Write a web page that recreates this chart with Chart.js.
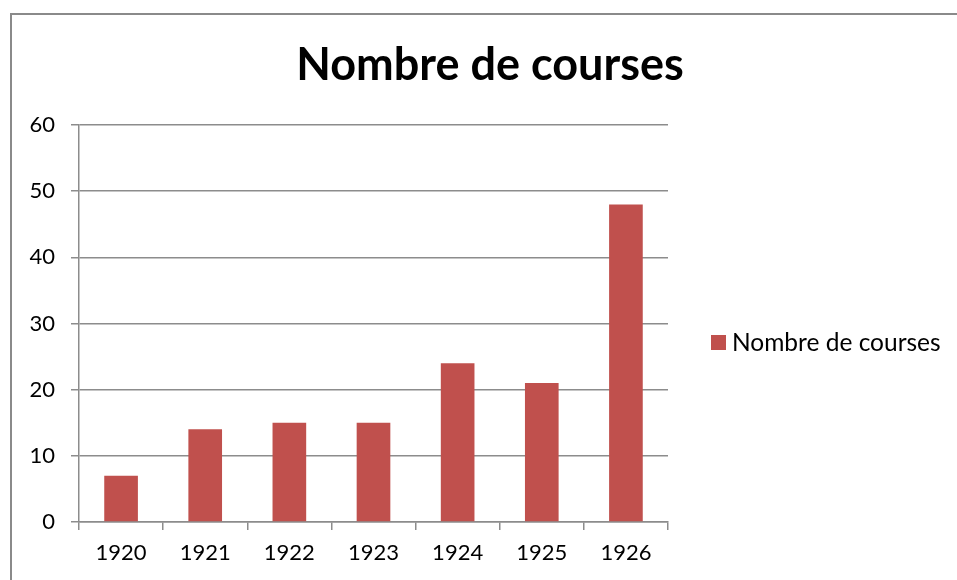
<!DOCTYPE html>
<html>
<head>
<meta charset="utf-8">
<script src="https://cdn.jsdelivr.net/npm/chart.js@4"></script>
<style>
  html, body { margin: 0; padding: 0; background: #fff; overflow: hidden; }
  #wrap { position: relative; width: 957px; height: 580px; }
  #cadre { position: absolute; left: 10px; top: 13px; width: 960px; height: 580px;
           border-left: 2px solid #8a8a8a; border-top: 2px solid #8a8a8a; }
  canvas { position: absolute; left: 0; top: 0; }
</style>
</head>
<body>
<div id="wrap">
  <div id="cadre"></div>
  <canvas id="graphique" width="957" height="580"></canvas>
</div>
<script>
// Données du graphique
const annees = ['1920', '1921', '1922', '1923', '1924', '1925', '1926'];
const nombreCourses = [7, 14, 15, 15, 24, 21, 48];
const nomSerie = 'Nombre de courses';
const titre = 'Nombre de courses';

const police = 'Lato, "Open Sans", sans-serif';
const rouge = '#C0504D';
const gris = '#8c8c8c';

// Titre et légende dessinés à la main, placés comme dans Excel
const titreEtLegende = {
  id: 'titreEtLegende',
  afterDraw(chart) {
    const ctx = chart.ctx;
    const ds = chart.data.datasets[0];
    ctx.save();
    ctx.fillStyle = '#000';
    ctx.textBaseline = 'middle';
    ctx.textAlign = 'center';
    ctx.font = 'bold 45px ' + police;
    ctx.fillText(titre, 490, 65);

    ctx.fillStyle = ds.backgroundColor;
    ctx.fillRect(711, 335, 15, 15);
    ctx.fillStyle = '#000';
    ctx.font = '24.5px ' + police;
    ctx.textAlign = 'left';
    ctx.fillText(ds.label, 732, 343);
    ctx.restore();
  }
};

const ctx = document.getElementById('graphique').getContext('2d');
new Chart(ctx, {
  type: 'bar',
  data: {
    labels: annees,
    datasets: [{
      label: nomSerie,
      data: nombreCourses,
      backgroundColor: rouge,
      categoryPercentage: 1,
      barPercentage: 0.4,
    }],
  },
  options: {
    responsive: false,
    animation: false,
    layout: { padding: { left: 26, right: 289, top: 125, bottom: 0 } },
    plugins: {
      legend: { display: false },
      tooltip: { enabled: false },
      title: { display: false },
    },
    scales: {
      x: {
        grid: { offset: true, drawOnChartArea: false, color: gris, lineWidth: 1.5, tickLength: 8 },
        border: { color: gris, width: 1.5 },
        ticks: { color: '#000', font: { family: police, size: 22 }, padding: 10 },
        afterFit: (axe) => { axe.height = 58; },
      },
      y: {
        min: 0,
        max: 60,
        ticks: { stepSize: 10, color: '#000', font: { family: police, size: 22 }, padding: 16 },
        grid: { color: gris, lineWidth: 1.5, tickLength: 8 },
        border: { color: gris, width: 1.5 },
        afterFit: (axe) => { axe.width = 53; },
      },
    },
  },
  plugins: [titreEtLegende],
});
</script>
</body>
</html>
